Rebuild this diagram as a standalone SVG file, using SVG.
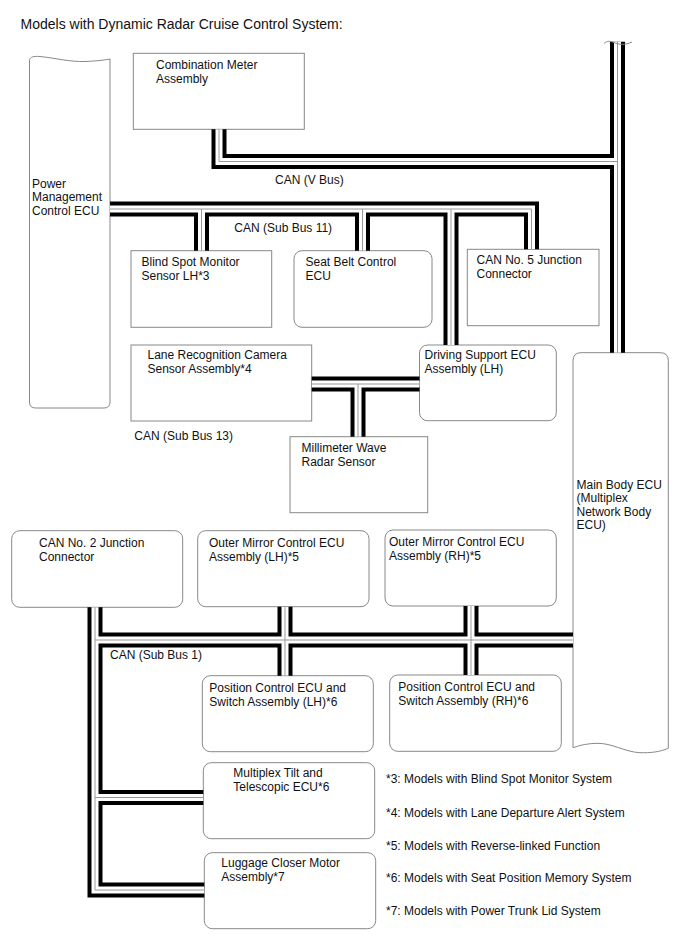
<svg xmlns="http://www.w3.org/2000/svg" width="688" height="949" viewBox="0 0 688 949">
<style>
text{font-family:"Liberation Sans",Arial,sans-serif;font-size:12px;fill:#111}
.title{font-size:14px}
.box{fill:#fff;stroke:#888;stroke-width:1}
.bk{fill:none;stroke:#000;stroke-width:15;stroke-linejoin:miter}
.wh{fill:none;stroke:#fff;stroke-width:7;stroke-linejoin:miter}
.gy{fill:none;stroke:#999;stroke-width:1;stroke-linejoin:miter}
</style>
<defs>
<path id="b1" d="M219,129.3 V161.5 H617.5"/>
<path id="b2" d="M617.5,41.7 V352.7"/>
<path id="b3" d="M110,209 H531.5 V249.3"/>
<path id="b4" d="M201.5,209 V250.7"/>
<path id="b5" d="M362.5,209 V250.7"/>
<path id="b6" d="M451,209 V345"/>
<path id="b7" d="M311.7,384 H419.5"/>
<path id="b8" d="M358,384 V436.7"/>
<path id="b9" d="M95,607.3 V890 H204.3"/>
<path id="b10" d="M95,640 H573"/>
<path id="b11" d="M95,797.5 H203.3"/>
<path id="b12" d="M285,606.7 V675.7"/>
<path id="b13" d="M471,606 V675"/>
</defs>
<text class="title" x="20.5" y="29">Models with Dynamic Radar Cruise Control System:</text>

<g id="power-management">
<path class="box" d="M29.5,59.5 C31,57 33,56 40,56.5 C55,58 70,62 85,61.5 C97,61 105,60 110,59 V402 Q110,408 104,408 H35.5 Q29.5,408 29.5,402 Z"/>
<text x="32" y="187.5">Power</text>
<text x="32" y="201">Management</text>
<text x="32" y="214.5">Control ECU</text>
</g>
<g id="combination-meter">
<rect class="box" x="133.3" y="53.3" width="171" height="76"/>
<text x="156" y="69">Combination Meter</text>
<text x="156" y="83">Assembly</text>
</g>
<g id="blind-spot">
<rect class="box" x="131" y="250.7" width="140.7" height="76.6"/>
<text x="141.5" y="266">Blind Spot Monitor</text>
<text x="141.5" y="280">Sensor LH*3</text>
</g>
<g id="seat-belt">
<rect class="box" x="294" y="250.7" width="138" height="76.6" rx="8"/>
<text x="305.5" y="266">Seat Belt Control</text>
<text x="305.5" y="280">ECU</text>
</g>
<g id="can5">
<rect class="box" x="467.3" y="249.3" width="131.7" height="76.4"/>
<text x="476.5" y="264">CAN No. 5 Junction</text>
<text x="476.5" y="278">Connector</text>
</g>
<g id="lane-camera">
<rect class="box" x="131" y="345" width="180.7" height="76"/>
<text x="147.5" y="358.5">Lane Recognition Camera</text>
<text x="147.5" y="372.5">Sensor Assembly*4</text>
</g>
<g id="driving-support">
<rect class="box" x="419.5" y="345" width="136.8" height="75.7" rx="8"/>
<text x="424.5" y="359">Driving Support ECU</text>
<text x="424.5" y="373">Assembly (LH)</text>
</g>
<g id="millimeter">
<rect class="box" x="290" y="436.7" width="137.7" height="76"/>
<text x="301.5" y="451.5">Millimeter Wave</text>
<text x="301.5" y="465.5">Radar Sensor</text>
</g>
<g id="main-body">
<path class="box" d="M573,747.7 V360.7 Q573,352.7 581,352.7 H660.3 Q668.3,352.7 668.3,360.7 V748.3 C660,752 650,753 640,752.7 C625,752 612,743 597,743.3 C588,743.5 580,745 573,747.7 Z"/>
<text x="576.5" y="488.5">Main Body ECU</text>
<text x="576.5" y="502">(Multiplex</text>
<text x="576.5" y="515.5">Network Body</text>
<text x="576.5" y="529">ECU)</text>
</g>
<g id="can2">
<rect class="box" x="11.7" y="530.7" width="171" height="76.6" rx="8"/>
<text x="39" y="546.5">CAN No. 2 Junction</text>
<text x="39" y="560.5">Connector</text>
</g>
<g id="outer-mirror-lh">
<rect class="box" x="197.7" y="530.7" width="171.3" height="76" rx="8"/>
<text x="209" y="546.5">Outer Mirror Control ECU</text>
<text x="209" y="560.5">Assembly (LH)*5</text>
</g>
<g id="outer-mirror-rh">
<rect class="box" x="385" y="530" width="171.3" height="76" rx="8"/>
<text x="389" y="546">Outer Mirror Control ECU</text>
<text x="389" y="560">Assembly (RH)*5</text>
</g>
<g id="position-lh">
<rect class="box" x="202.3" y="675.7" width="171" height="76" rx="8"/>
<text x="209.3" y="691.5">Position Control ECU and</text>
<text x="209.3" y="705.5">Switch Assembly (LH)*6</text>
</g>
<g id="position-rh">
<rect class="box" x="389.7" y="675" width="171.6" height="76.3" rx="8"/>
<text x="398.3" y="691">Position Control ECU and</text>
<text x="398.3" y="705">Switch Assembly (RH)*6</text>
</g>
<g id="multiplex-tilt">
<rect class="box" x="203.3" y="762.7" width="171.4" height="76" rx="8"/>
<text x="233.3" y="777">Multiplex Tilt and</text>
<text x="233.3" y="791">Telescopic ECU*6</text>
</g>
<g id="luggage-closer">
<rect class="box" x="204.3" y="852.7" width="171.4" height="76" rx="8"/>
<text x="221.3" y="866.5">Luggage Closer Motor</text>
<text x="221.3" y="880.5">Assembly*7</text>
</g>

<g id="connectors">
<g class="bk">
<use href="#b1"/><use href="#b2"/><use href="#b3"/><use href="#b4"/><use href="#b5"/><use href="#b6"/><use href="#b7"/><use href="#b8"/><use href="#b9"/><use href="#b10"/><use href="#b11"/><use href="#b12"/><use href="#b13"/>
</g>
<g class="wh">
<use href="#b1"/><use href="#b2"/><use href="#b3"/><use href="#b4"/><use href="#b5"/><use href="#b6"/><use href="#b7"/><use href="#b8"/><use href="#b9"/><use href="#b10"/><use href="#b11"/><use href="#b12"/><use href="#b13"/>
</g>
<g class="gy">
<use href="#b1"/><use href="#b2"/><use href="#b3"/><use href="#b4"/><use href="#b5"/><use href="#b6"/><use href="#b7"/><use href="#b8"/><use href="#b9"/><use href="#b10"/><use href="#b11"/><use href="#b12"/><use href="#b13"/>
</g>
<path d="M604,43.5 C607,40.5 610,41 614,42.5 C619,44.5 625,45.5 632,42" fill="none" stroke="#888" stroke-width="1"/>
<text x="275" y="184">CAN (V Bus)</text>
<text x="234.3" y="231.5">CAN (Sub Bus 11)</text>
<text x="134.3" y="440">CAN (Sub Bus 13)</text>
<text x="110" y="659">CAN (Sub Bus 1)</text>
</g>

<g id="footnotes">
<text x="386" y="783">*3: Models with Blind Spot Monitor System</text>
<text x="386" y="816.5">*4: Models with Lane Departure Alert System</text>
<text x="386" y="849.5">*5: Models with Reverse-linked Function</text>
<text x="386" y="882">*6: Models with Seat Position Memory System</text>
<text x="386" y="915">*7: Models with Power Trunk Lid System</text>
</g>
</svg>
